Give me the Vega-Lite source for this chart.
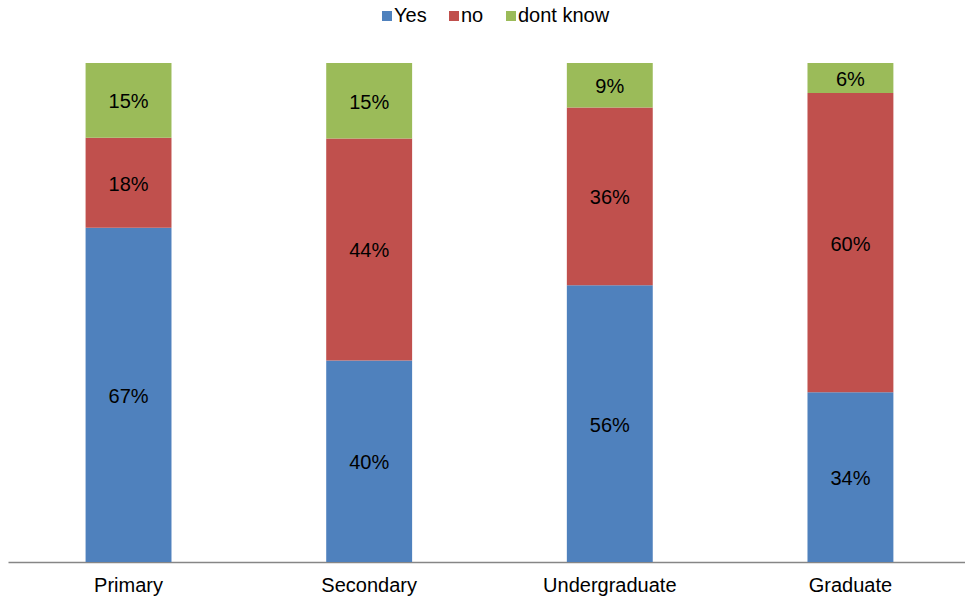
{
  "$schema": "https://vega.github.io/schema/vega-lite/v6.json",
  "width": 957,
  "height": 499,
  "autosize": "none",
  "padding": {"left": 8, "top": 63, "right": 0, "bottom": 41},
  "background": "white",
  "config": {
    "view": {"stroke": null},
    "font": "Liberation Sans"
  },
  "data": {
    "values": [
      {"level": "Primary", "answer": "Yes", "idx": 1, "value": 0.67},
      {"level": "Primary", "answer": "no", "idx": 2, "value": 0.18},
      {"level": "Primary", "answer": "dont know", "idx": 3, "value": 0.15},
      {"level": "Secondary", "answer": "Yes", "idx": 1, "value": 0.40},
      {"level": "Secondary", "answer": "no", "idx": 2, "value": 0.44},
      {"level": "Secondary", "answer": "dont know", "idx": 3, "value": 0.15},
      {"level": "Undergraduate", "answer": "Yes", "idx": 1, "value": 0.56},
      {"level": "Undergraduate", "answer": "no", "idx": 2, "value": 0.36},
      {"level": "Undergraduate", "answer": "dont know", "idx": 3, "value": 0.09},
      {"level": "Graduate", "answer": "Yes", "idx": 1, "value": 0.34},
      {"level": "Graduate", "answer": "no", "idx": 2, "value": 0.60},
      {"level": "Graduate", "answer": "dont know", "idx": 3, "value": 0.06}
    ]
  },
  "transform": [
    {"stack": "value", "groupby": ["level"], "sort": [{"field": "idx", "order": "ascending"}], "offset": "normalize", "as": ["y0", "y1"]},
    {"calculate": "(datum.y0 + datum.y1) / 2", "as": "ymid"}
  ],
  "encoding": {
    "x": {
      "field": "level",
      "type": "nominal",
      "sort": ["Primary", "Secondary", "Undergraduate", "Graduate"],
      "scale": {"paddingInner": 0.643, "paddingOuter": 0.31, "align": 0.52},
      "axis": {
        "title": null,
        "labelAngle": 0,
        "labelFontSize": 20,
        "labelColor": "#000000",
        "labelPadding": 13,
        "ticks": false,
        "domainColor": "#868686",
        "domainWidth": 1.5,
        "grid": false
      }
    }
  },
  "layer": [
    {
      "mark": {"type": "bar"},
      "encoding": {
        "y": {"field": "y0", "type": "quantitative", "scale": {"domain": [0, 1]}, "axis": null},
        "y2": {"field": "y1"},
        "color": {
          "field": "answer",
          "type": "nominal",
          "sort": ["Yes", "no", "dont know"],
          "scale": {"domain": ["Yes", "no", "dont know"], "range": ["#4F81BD", "#C0504D", "#9BBB59"]},
          "legend": {
            "title": null,
            "orient": "none",
            "direction": "horizontal",
            "legendX": 369,
            "legendY": -57,
            "symbolType": "square",
            "symbolSize": 100,
            "symbolStrokeWidth": 0,
            "labelFontSize": 20,
            "labelColor": "#000000",
            "labelOffset": -3,
            "columnPadding": 17
          }
        }
      }
    },
    {
      "mark": {"type": "text", "fontSize": 20, "color": "#000000", "baseline": "middle", "align": "center", "dy": 2},
      "encoding": {
        "y": {"field": "ymid", "type": "quantitative", "scale": {"domain": [0, 1]}},
        "text": {"field": "value", "type": "quantitative", "format": ".0%"}
      }
    }
  ]
}
